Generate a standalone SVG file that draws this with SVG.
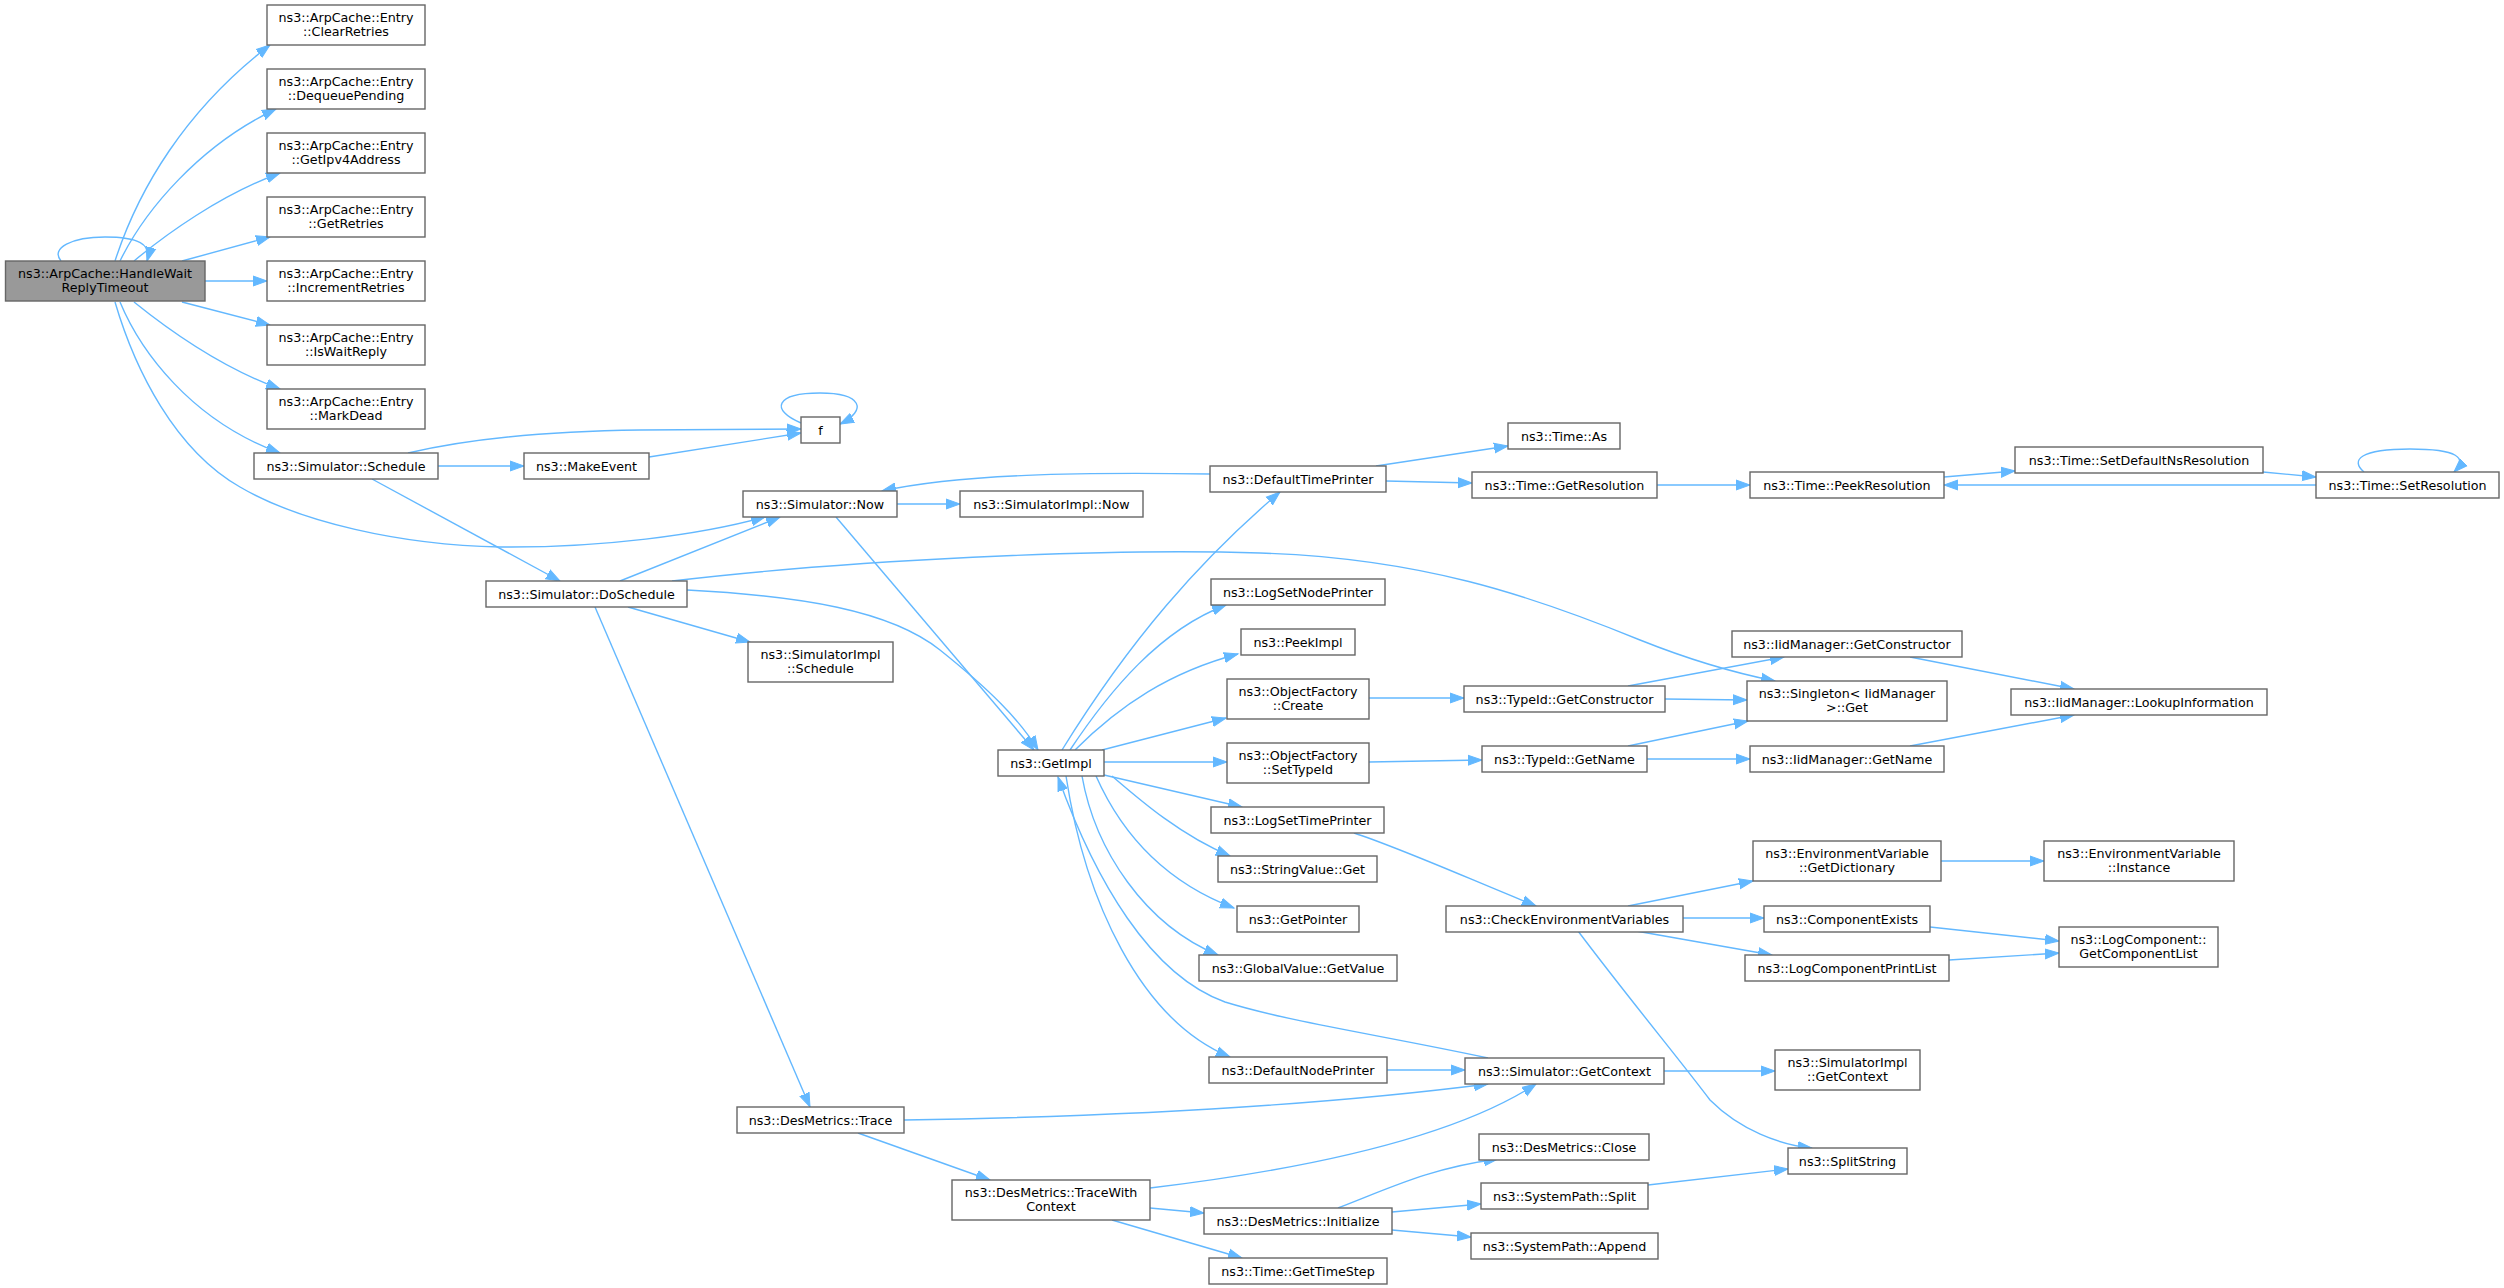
<svg xmlns="http://www.w3.org/2000/svg" width="2504" height="1288" viewBox="0 0 2504 1288">
<style>
.n rect{fill:#ffffff;stroke:#666666;stroke-width:1.4}
.n.main rect{fill:#999999;stroke:#666666}
.n text{font-family:"DejaVu Sans",Verdana,sans-serif;font-size:12.7px;fill:#000000;text-anchor:middle}
.e path{fill:none;stroke:#63b8ff;stroke-width:1.4;marker-end:url(#ah)}
</style>
<defs>
<marker id="ah" markerUnits="userSpaceOnUse" markerWidth="16" markerHeight="12" viewBox="0 -6 16 12" refX="14" refY="0" orient="auto">
<path d="M0,-5 L14,0 L0,5 Z" fill="#63b8ff" stroke="#63b8ff" stroke-width="1"/>
</marker>
</defs>
<rect x="0" y="0" width="2504" height="1288" fill="#ffffff"/>
<g id="connectors" class="e">
<path d="M61,261 C50,248 72,237 105,237 C138,237 152,244 147,261"/>
<path d="M115,261 C138,190 185,110 270,45"/>
<path d="M120,261 C145,210 200,145 276,109"/>
<path d="M134,261 C165,235 220,195 280,173"/>
<path d="M182,261 L270,237"/>
<path d="M205,281 L267,281"/>
<path d="M182,302 L270,325"/>
<path d="M134,302 C165,327 220,367 280,389"/>
<path d="M120,302 C140,350 190,420 280,453"/>
<path d="M115,302 C135,370 175,450 240,487 C300,522 400,545 500,547 C600,548 700,535 765,517"/>
<path d="M438,466 L524,466"/>
<path d="M408,453 C480,436 560,431 640,430 L801,429"/>
<path d="M649,457 L801,433"/>
<path d="M801,423 C770,410 775,393 820,393 C862,393 868,410 840,424"/>
<path d="M372,479 L560,581"/>
<path d="M620,581 L780,517"/>
<path d="M628,607 L750,642"/>
<path d="M687,590 C800,596 890,610 940,650 C990,690 1020,720 1038,750"/>
<path d="M672,581 C850,560 1100,548 1260,553 C1420,558 1530,595 1640,640 C1690,660 1730,672 1775,681"/>
<path d="M595,607 L810,1107"/>
<path d="M897,504 L960,504"/>
<path d="M836,517 L1034,750"/>
<path d="M1210,474 C1080,472 960,474 882,491"/>
<path d="M1062,750 C1130,640 1200,560 1280,492"/>
<path d="M1070,750 C1110,690 1160,630 1226,605"/>
<path d="M1075,750 C1120,705 1170,672 1238,654"/>
<path d="M1102,750 L1226,718"/>
<path d="M1104,762 L1227,762"/>
<path d="M1104,775 L1242,807"/>
<path d="M1112,776 C1140,800 1180,835 1230,856"/>
<path d="M1096,776 C1120,830 1160,880 1234,908"/>
<path d="M1082,776 C1095,850 1145,925 1218,955"/>
<path d="M1488,1058 C1380,1035 1290,1022 1225,1002 C1150,975 1095,880 1058,777"/>
<path d="M1066,776 C1085,900 1140,1020 1230,1057"/>
<path d="M1369,698 L1464,698"/>
<path d="M1369,762 L1482,760"/>
<path d="M1628,686 L1784,657"/>
<path d="M1665,699 L1747,700"/>
<path d="M1628,746 L1748,721"/>
<path d="M1647,759 L1750,759"/>
<path d="M1910,657 L2074,689"/>
<path d="M1910,746 L2074,715"/>
<path d="M1376,466 L1508,446"/>
<path d="M1386,481 L1472,483"/>
<path d="M1657,485 L1750,485"/>
<path d="M1944,477 L2015,471"/>
<path d="M2263,472 L2316,477"/>
<path d="M2316,485 L1944,485"/>
<path d="M2364,472 C2350,460 2360,449 2410,449 C2458,449 2468,458 2454,472"/>
<path d="M1354,833 C1400,848 1460,875 1536,906"/>
<path d="M1628,906 L1753,881"/>
<path d="M1683,918 L1764,918"/>
<path d="M1636,931 L1772,955"/>
<path d="M1941,861 L2044,861"/>
<path d="M1930,927 L2059,941"/>
<path d="M1949,960 L2059,953"/>
<path d="M1578,931 C1630,1000 1680,1060 1710,1100 C1740,1130 1780,1145 1812,1148"/>
<path d="M1664,1071 L1775,1071"/>
<path d="M1387,1070 L1465,1070"/>
<path d="M904,1120 C1100,1117 1300,1108 1488,1084"/>
<path d="M858,1133 L990,1180"/>
<path d="M1150,1188 C1300,1170 1450,1140 1536,1084"/>
<path d="M1150,1208 L1204,1213"/>
<path d="M1112,1220 L1242,1258"/>
<path d="M1338,1208 C1390,1188 1430,1168 1498,1159"/>
<path d="M1392,1212 L1481,1204"/>
<path d="M1392,1230 L1471,1237"/>
<path d="M1648,1185 L1788,1169"/>
</g>
<g id="n_handlewait" class="n main"><rect x="5.5" y="261" width="199.5" height="40"/><text x="105" y="277.5">ns3::ArpCache::HandleWait</text><text x="105" y="292">ReplyTimeout</text></g>
<g id="n_clearretries" class="n"><rect x="267" y="5" width="158" height="40"/><text x="346" y="21.5">ns3::ArpCache::Entry</text><text x="346" y="36">::ClearRetries</text></g>
<g id="n_dequeuepending" class="n"><rect x="267" y="69" width="158" height="40"/><text x="346" y="85.5">ns3::ArpCache::Entry</text><text x="346" y="100">::DequeuePending</text></g>
<g id="n_getipv4address" class="n"><rect x="267" y="133" width="158" height="40"/><text x="346" y="149.5">ns3::ArpCache::Entry</text><text x="346" y="164">::GetIpv4Address</text></g>
<g id="n_getretries" class="n"><rect x="267" y="197" width="158" height="40"/><text x="346" y="213.5">ns3::ArpCache::Entry</text><text x="346" y="228">::GetRetries</text></g>
<g id="n_incrementretries" class="n"><rect x="267" y="261" width="158" height="40"/><text x="346" y="277.5">ns3::ArpCache::Entry</text><text x="346" y="292">::IncrementRetries</text></g>
<g id="n_iswaitreply" class="n"><rect x="267" y="325" width="158" height="40"/><text x="346" y="341.5">ns3::ArpCache::Entry</text><text x="346" y="356">::IsWaitReply</text></g>
<g id="n_markdead" class="n"><rect x="267" y="389" width="158" height="40"/><text x="346" y="405.5">ns3::ArpCache::Entry</text><text x="346" y="420">::MarkDead</text></g>
<g id="n_schedule" class="n"><rect x="254" y="453" width="184" height="26"/><text x="346" y="470.5">ns3::Simulator::Schedule</text></g>
<g id="n_makeevent" class="n"><rect x="524" y="453" width="125" height="26"/><text x="586.5" y="470.5">ns3::MakeEvent</text></g>
<g id="n_f" class="n"><rect x="801" y="417" width="39" height="26"/><text x="820.5" y="434.5">f</text></g>
<g id="n_now" class="n"><rect x="743" y="491" width="154" height="26"/><text x="820" y="508.5">ns3::Simulator::Now</text></g>
<g id="n_implnow" class="n"><rect x="960" y="491" width="183" height="26"/><text x="1051.5" y="508.5">ns3::SimulatorImpl::Now</text></g>
<g id="n_doschedule" class="n"><rect x="486" y="581" width="201" height="26"/><text x="586.5" y="598.5">ns3::Simulator::DoSchedule</text></g>
<g id="n_implschedule" class="n"><rect x="748" y="642" width="145" height="40"/><text x="820.5" y="658.5">ns3::SimulatorImpl</text><text x="820.5" y="673">::Schedule</text></g>
<g id="n_getimpl" class="n"><rect x="998" y="750" width="106" height="26"/><text x="1051" y="767.5">ns3::GetImpl</text></g>
<g id="n_defaulttimeprinter" class="n"><rect x="1210" y="466" width="176" height="26"/><text x="1298" y="483.5">ns3::DefaultTimePrinter</text></g>
<g id="n_timeas" class="n"><rect x="1508" y="423" width="112" height="26"/><text x="1564" y="440.5">ns3::Time::As</text></g>
<g id="n_getresolution" class="n"><rect x="1472" y="472" width="185" height="26"/><text x="1564.5" y="489.5">ns3::Time::GetResolution</text></g>
<g id="n_peekresolution" class="n"><rect x="1750" y="472" width="194" height="26"/><text x="1847" y="489.5">ns3::Time::PeekResolution</text></g>
<g id="n_setdefaultns" class="n"><rect x="2015" y="447" width="248" height="26"/><text x="2139" y="464.5">ns3::Time::SetDefaultNsResolution</text></g>
<g id="n_setresolution" class="n"><rect x="2316" y="472" width="183" height="26"/><text x="2407.5" y="489.5">ns3::Time::SetResolution</text></g>
<g id="n_logsetnodeprinter" class="n"><rect x="1211" y="579" width="174" height="26"/><text x="1298" y="596.5">ns3::LogSetNodePrinter</text></g>
<g id="n_peekimpl" class="n"><rect x="1241" y="629" width="114" height="26"/><text x="1298" y="646.5">ns3::PeekImpl</text></g>
<g id="n_ofcreate" class="n"><rect x="1227" y="679" width="142" height="40"/><text x="1298" y="695.5">ns3::ObjectFactory</text><text x="1298" y="710">::Create</text></g>
<g id="n_ofsettypeid" class="n"><rect x="1227" y="743" width="142" height="40"/><text x="1298" y="759.5">ns3::ObjectFactory</text><text x="1298" y="774">::SetTypeId</text></g>
<g id="n_logsettimeprinter" class="n"><rect x="1211" y="807" width="173" height="26"/><text x="1297.5" y="824.5">ns3::LogSetTimePrinter</text></g>
<g id="n_typeidgetconstructor" class="n"><rect x="1464" y="686" width="201" height="26"/><text x="1564.5" y="703.5">ns3::TypeId::GetConstructor</text></g>
<g id="n_iidgetconstructor" class="n"><rect x="1732" y="631" width="230" height="26"/><text x="1847" y="648.5">ns3::IidManager::GetConstructor</text></g>
<g id="n_singleton" class="n"><rect x="1747" y="681" width="200" height="40"/><text x="1847" y="697.5">ns3::Singleton&lt; IidManager</text><text x="1847" y="712">&gt;::Get</text></g>
<g id="n_lookupinformation" class="n"><rect x="2011" y="689" width="256" height="26"/><text x="2139" y="706.5">ns3::IidManager::LookupInformation</text></g>
<g id="n_typeidgetname" class="n"><rect x="1482" y="746" width="165" height="26"/><text x="1564.5" y="763.5">ns3::TypeId::GetName</text></g>
<g id="n_iidgetname" class="n"><rect x="1750" y="746" width="194" height="26"/><text x="1847" y="763.5">ns3::IidManager::GetName</text></g>
<g id="n_stringvalueget" class="n"><rect x="1218" y="856" width="159" height="26"/><text x="1297.5" y="873.5">ns3::StringValue::Get</text></g>
<g id="n_getpointer" class="n"><rect x="1237" y="906" width="122" height="26"/><text x="1298" y="923.5">ns3::GetPointer</text></g>
<g id="n_globalvalue" class="n"><rect x="1199" y="955" width="198" height="26"/><text x="1298" y="972.5">ns3::GlobalValue::GetValue</text></g>
<g id="n_defaultnodeprinter" class="n"><rect x="1209" y="1057" width="178" height="26"/><text x="1298" y="1074.5">ns3::DefaultNodePrinter</text></g>
<g id="n_checkenv" class="n"><rect x="1446" y="906" width="237" height="26"/><text x="1564.5" y="923.5">ns3::CheckEnvironmentVariables</text></g>
<g id="n_getdictionary" class="n"><rect x="1753" y="841" width="188" height="40"/><text x="1847" y="857.5">ns3::EnvironmentVariable</text><text x="1847" y="872">::GetDictionary</text></g>
<g id="n_envinstance" class="n"><rect x="2044" y="841" width="190" height="40"/><text x="2139" y="857.5">ns3::EnvironmentVariable</text><text x="2139" y="872">::Instance</text></g>
<g id="n_componentexists" class="n"><rect x="1764" y="906" width="166" height="26"/><text x="1847" y="923.5">ns3::ComponentExists</text></g>
<g id="n_logcomponentprintlist" class="n"><rect x="1745" y="955" width="204" height="26"/><text x="1847" y="972.5">ns3::LogComponentPrintList</text></g>
<g id="n_getcomponentlist" class="n"><rect x="2059" y="927" width="159" height="40"/><text x="2138.5" y="943.5">ns3::LogComponent::</text><text x="2138.5" y="958">GetComponentList</text></g>
<g id="n_getcontext" class="n"><rect x="1465" y="1058" width="199" height="26"/><text x="1564.5" y="1075.5">ns3::Simulator::GetContext</text></g>
<g id="n_implgetcontext" class="n"><rect x="1775" y="1050" width="145" height="40"/><text x="1847.5" y="1066.5">ns3::SimulatorImpl</text><text x="1847.5" y="1081">::GetContext</text></g>
<g id="n_splitstring" class="n"><rect x="1788" y="1148" width="119" height="26"/><text x="1847.5" y="1165.5">ns3::SplitString</text></g>
<g id="n_trace" class="n"><rect x="737" y="1107" width="167" height="26"/><text x="820.5" y="1124.5">ns3::DesMetrics::Trace</text></g>
<g id="n_tracewithcontext" class="n"><rect x="952" y="1180" width="198" height="40"/><text x="1051" y="1196.5">ns3::DesMetrics::TraceWith</text><text x="1051" y="1211">Context</text></g>
<g id="n_initialize" class="n"><rect x="1204" y="1208" width="188" height="26"/><text x="1298" y="1225.5">ns3::DesMetrics::Initialize</text></g>
<g id="n_close" class="n"><rect x="1479" y="1134" width="170" height="26"/><text x="1564" y="1151.5">ns3::DesMetrics::Close</text></g>
<g id="n_split" class="n"><rect x="1481" y="1183" width="167" height="26"/><text x="1564.5" y="1200.5">ns3::SystemPath::Split</text></g>
<g id="n_append" class="n"><rect x="1471" y="1233" width="187" height="26"/><text x="1564.5" y="1250.5">ns3::SystemPath::Append</text></g>
<g id="n_gettimestep" class="n"><rect x="1209" y="1258" width="178" height="26"/><text x="1298" y="1275.5">ns3::Time::GetTimeStep</text></g>
</svg>
